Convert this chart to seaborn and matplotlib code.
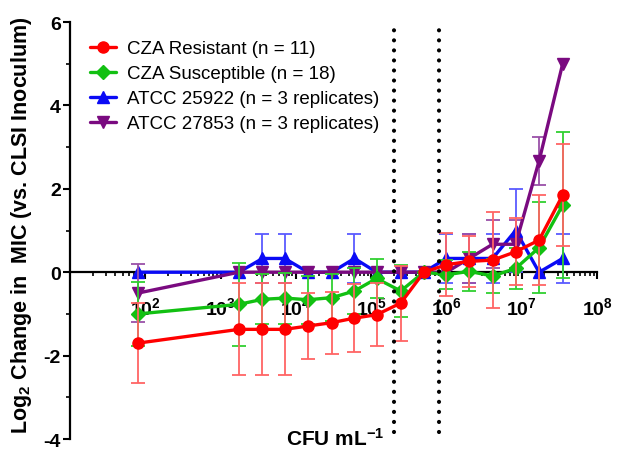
import numpy as np
import pandas as pd
import matplotlib
matplotlib.use("Agg")
import matplotlib.pyplot as plt
import seaborn as sns
from matplotlib.ticker import FixedLocator, LogLocator, FuncFormatter, NullFormatter, MultipleLocator

# Inoculum densities tested (CFU/mL)
cfu = [80, 1750, 3600, 7100, 14500, 30000, 60000, 118000, 247000,
       500000, 1.0e6, 2.0e6, 4.1e6, 8.3e6, 1.7e7, 3.5e7]

# Mean log2 change in MIC relative to the CLSI inoculum, with SD
resistant_mean = [-1.70, -1.37, -1.37, -1.37, -1.29, -1.21, -1.10, -1.02, -0.74,
                  0.0, 0.18, 0.26, 0.29, 0.49, 0.77, 1.85]
resistant_sd = [0.95, 1.10, 1.10, 1.10, 0.78, 0.74, 0.82, 0.75, 0.90,
                0.0, 0.75, 0.62, 1.15, 0.80, 1.08, 1.22]

susceptible_mean = [-1.00, -0.77, -0.65, -0.62, -0.66, -0.61, -0.45, -0.15, -0.45,
                    0.0, -0.06, 0.02, -0.09, 0.09, 0.59, 1.61]
susceptible_sd = [0.76, 1.00, 0.60, 0.61, 0.58, 0.56, 0.55, 0.46, 0.62,
                  0.0, 0.35, 0.46, 0.40, 0.50, 1.10, 1.75]

atcc25922_mean = [0, 0, 0.33, 0.33, 0, 0, 0.33, 0, 0, 0, 0.33, 0.33, 0.33, 1.0, 0, 0.33]
atcc25922_sd = [0, 0, 0.58, 0.58, 0, 0, 0.58, 0, 0, 0, 0.58, 0.58, 0.58, 1.0, 0, 0.58]

atcc27853_mean = [-0.5, 0, 0, 0, 0, 0, 0, 0, 0, 0, 0, 0.33, 0.67, 0.67, 2.67, 5.0]
atcc27853_sd = [0.7, 0, 0, 0, 0, 0, 0, 0, 0, 0, 0, 0.58, 0.58, 0.58, 0.58, 0]

labels = ["CZA Resistant (n = 11)", "CZA Susceptible (n = 18)",
          "ATCC 25922 (n = 3 replicates)", "ATCC 27853 (n = 3 replicates)"]

# CLSI target inoculum range
clsi_range = [2e5, 8e5]

sns.set_style("ticks")
plt.rcParams.update({
    "font.family": ["Liberation Sans", "DejaVu Sans"],
    "font.weight": "bold",
    "mathtext.fontset": "custom",
    "mathtext.bf": "Liberation Sans:bold",
    "mathtext.rm": "Liberation Sans:bold",
    "mathtext.it": "Liberation Sans:bold",
    "mathtext.default": "bf",
    "text.color": "black",
    "axes.labelcolor": "black",
    "axes.edgecolor": "black",
    "xtick.color": "black",
    "ytick.color": "black",
})

fig = plt.figure(figsize=(6.23, 4.52), dpi=100)
ax = fig.add_axes([0.1124, 0.0265, 0.8459, 0.9226])

series = [
    # label, mean, sd, line colour, error-bar colour, marker, size, zorder
    (labels[2], atcc25922_mean, atcc25922_sd, "#0A0AF5", "#5A5AFF", "^", 8.5, 4),
    (labels[3], atcc27853_mean, atcc27853_sd, "#7A0A80", "#9A50A8", "v", 8.5, 5),
    (labels[1], susceptible_mean, susceptible_sd, "#12C012", "#30D030", "D", 7.5, 6),
    (labels[0], resistant_mean, resistant_sd, "#FF0000", "#FF6464", "o", 8.0, 7),
]

for name, mean, sd, col, ecol, mk, ms, z in series:
    df = pd.DataFrame({"cfu": cfu, "change": mean, "sd": sd})
    bars = df[df["sd"] > 0]
    ax.errorbar(bars["cfu"], bars["change"], yerr=bars["sd"], fmt="none",
                ecolor=ecol, elinewidth=1.3, capsize=5, capthick=1.3, zorder=z)
    sns.lineplot(data=df, x="cfu", y="change", color=col, marker=mk,
                 markersize=ms, markeredgecolor=col, markeredgewidth=1,
                 linewidth=2.4, label=name, errorbar=None, ax=ax, zorder=z + 0.5)

for xv in clsi_range:
    ax.plot([xv, xv], [-3.84, 6], color="black", lw=3,
            linestyle=(0, (0.01, 2.4)), dash_capstyle="round",
            zorder=10, clip_on=False)

ax.set_xscale("log")
ax.set_xlim(10, 1e8)
ax.set_ylim(-4, 6)
sns.despine(ax=ax)
ax.spines["bottom"].set_position(("data", 0))
for s in ("left", "bottom"):
    ax.spines[s].set_linewidth(1.6)
    ax.spines[s].set_zorder(2.5)

ax.xaxis.set_major_locator(FixedLocator([1e2, 1e3, 1e4, 1e5, 1e6, 1e7, 1e8]))
ax.xaxis.set_major_formatter(FuncFormatter(lambda v, p: r"$\mathbf{10^{%d}}$" % round(np.log10(v))))
ax.xaxis.set_minor_locator(LogLocator(base=10, subs=np.arange(2, 10), numticks=30))
ax.xaxis.set_minor_formatter(NullFormatter())
ax.yaxis.set_major_locator(MultipleLocator(2))
ax.yaxis.set_minor_locator(MultipleLocator(1))
ax.yaxis.set_major_formatter(FuncFormatter(lambda v, p: "%d" % round(v)))

ax.tick_params(axis="x", which="major", length=5, width=1.5, direction="out",
               pad=12, labelsize=14)
ax.tick_params(axis="x", which="minor", length=3, width=1.2, direction="out")
ax.tick_params(axis="y", which="major", length=5, width=1.5, direction="out",
               pad=1.5, labelsize=14)
ax.tick_params(axis="y", which="minor", length=3, width=1.2, direction="out")

ax.set_xlabel("")
ax.set_ylabel("")
fig.text(0.5377, 0.0288, r"CFU mL$^{-1}$", ha="center", va="center",
         fontsize=15, fontweight="bold")
fig.text(0.0353, 0.501, r"Log$_{2}$ Change in  MIC (vs. CLSI Inoculum)",
         rotation=90, ha="center", va="center", fontsize=15.5, fontweight="bold")

handles, names = ax.get_legend_handles_labels()
lookup = dict(zip(names, handles))
ax.legend([lookup[n] for n in labels], labels, loc="upper left",
          bbox_to_anchor=(0.1445, 0.909), bbox_transform=fig.transFigure,
          frameon=False, handlelength=1.4, handletextpad=0.55,
          labelspacing=0.42, borderpad=0, borderaxespad=0,
          prop={"size": 13.5, "weight": "normal"})

fig.savefig("out.png", dpi=100)
